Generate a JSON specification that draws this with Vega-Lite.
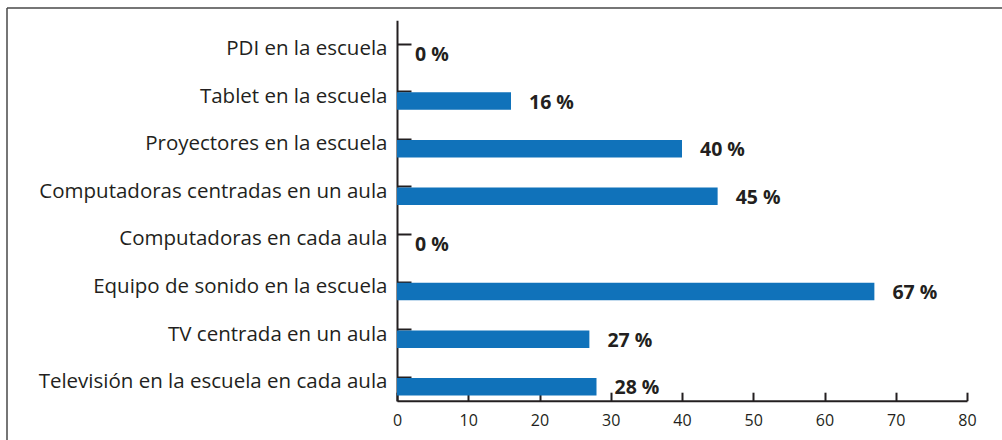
{
  "$schema": "https://vega.github.io/schema/vega-lite/v6.json",
  "width": 995,
  "height": 432,
  "autosize": {"type": "none"},
  "padding": {"left": 7, "top": 8, "right": 0, "bottom": 0},
  "background": "white",
  "view": {"stroke": "#4a4a4a", "strokeWidth": 1.5, "strokeDash": [995, 1427, 432, 0], "strokeCap": "butt"},
  "config": {
    "font": "Open Sans"
  },
  "data": {"values": [
    {"item": "PDI en la escuela", "value": 0, "label": "0 %"},
    {"item": "Tablet en la escuela", "value": 16, "label": "16 %"},
    {"item": "Proyectores en la escuela", "value": 40, "label": "40 %"},
    {"item": "Computadoras centradas en un aula", "value": 45, "label": "45 %"},
    {"item": "Computadoras en cada aula", "value": 0, "label": "0 %"},
    {"item": "Equipo de sonido en la escuela", "value": 67, "label": "67 %"},
    {"item": "TV centrada en un aula", "value": 27, "label": "27 %"},
    {"item": "Televisión en la escuela en cada aula", "value": 28, "label": "28 %"}
  ]},
  "encoding": {
    "y": {
      "field": "item", "type": "nominal", "sort": null,
      "scale": {"range": [12.2, 393.1], "paddingInner": 0, "paddingOuter": 0},
      "axis": {
        "title": null, "orient": "left", "offset": -390,
        "domainColor": "#231f20", "domainWidth": 2,
        "tickColor": "#231f20", "tickWidth": 2, "tickSize": -14,
        "labelPadding": 24, "labelFont": "Open Sans", "labelFontSize": 20.5,
        "labelColor": "#231f20", "labelBaseline": "alphabetic", "labelOffset": 11,
        "labelLimit": 600
      }
    }
  },
  "layer": [
    {
      "mark": {"type": "bar", "color": "#1072ba", "height": 17.5, "yOffset": 9.5},
      "encoding": {
        "x": {
          "field": "value", "type": "quantitative",
          "scale": {"domain": [0, 80], "range": [390, 960]},
          "axis": {
            "title": null, "orient": "bottom", "offset": -39.3, "grid": false,
            "values": [0, 10, 20, 30, 40, 50, 60, 70, 80],
            "domainColor": "#231f20", "domainWidth": 2,
            "tickColor": "#231f20", "tickWidth": 2, "tickSize": -8.5,
            "labelPadding": 20, "labelFont": "Open Sans", "labelFontSize": 16,
            "labelColor": "#231f20", "labelFlush": false
          }
        }
      }
    },
    {
      "mark": {"type": "text", "align": "left", "baseline": "alphabetic", "dx": 18, "dy": 17,
               "font": "Open Sans", "fontWeight": "bold", "fontSize": 19.5, "color": "#231f20"},
      "encoding": {
        "x": {"field": "value", "type": "quantitative"},
        "text": {"field": "label"}
      }
    }
  ]
}
